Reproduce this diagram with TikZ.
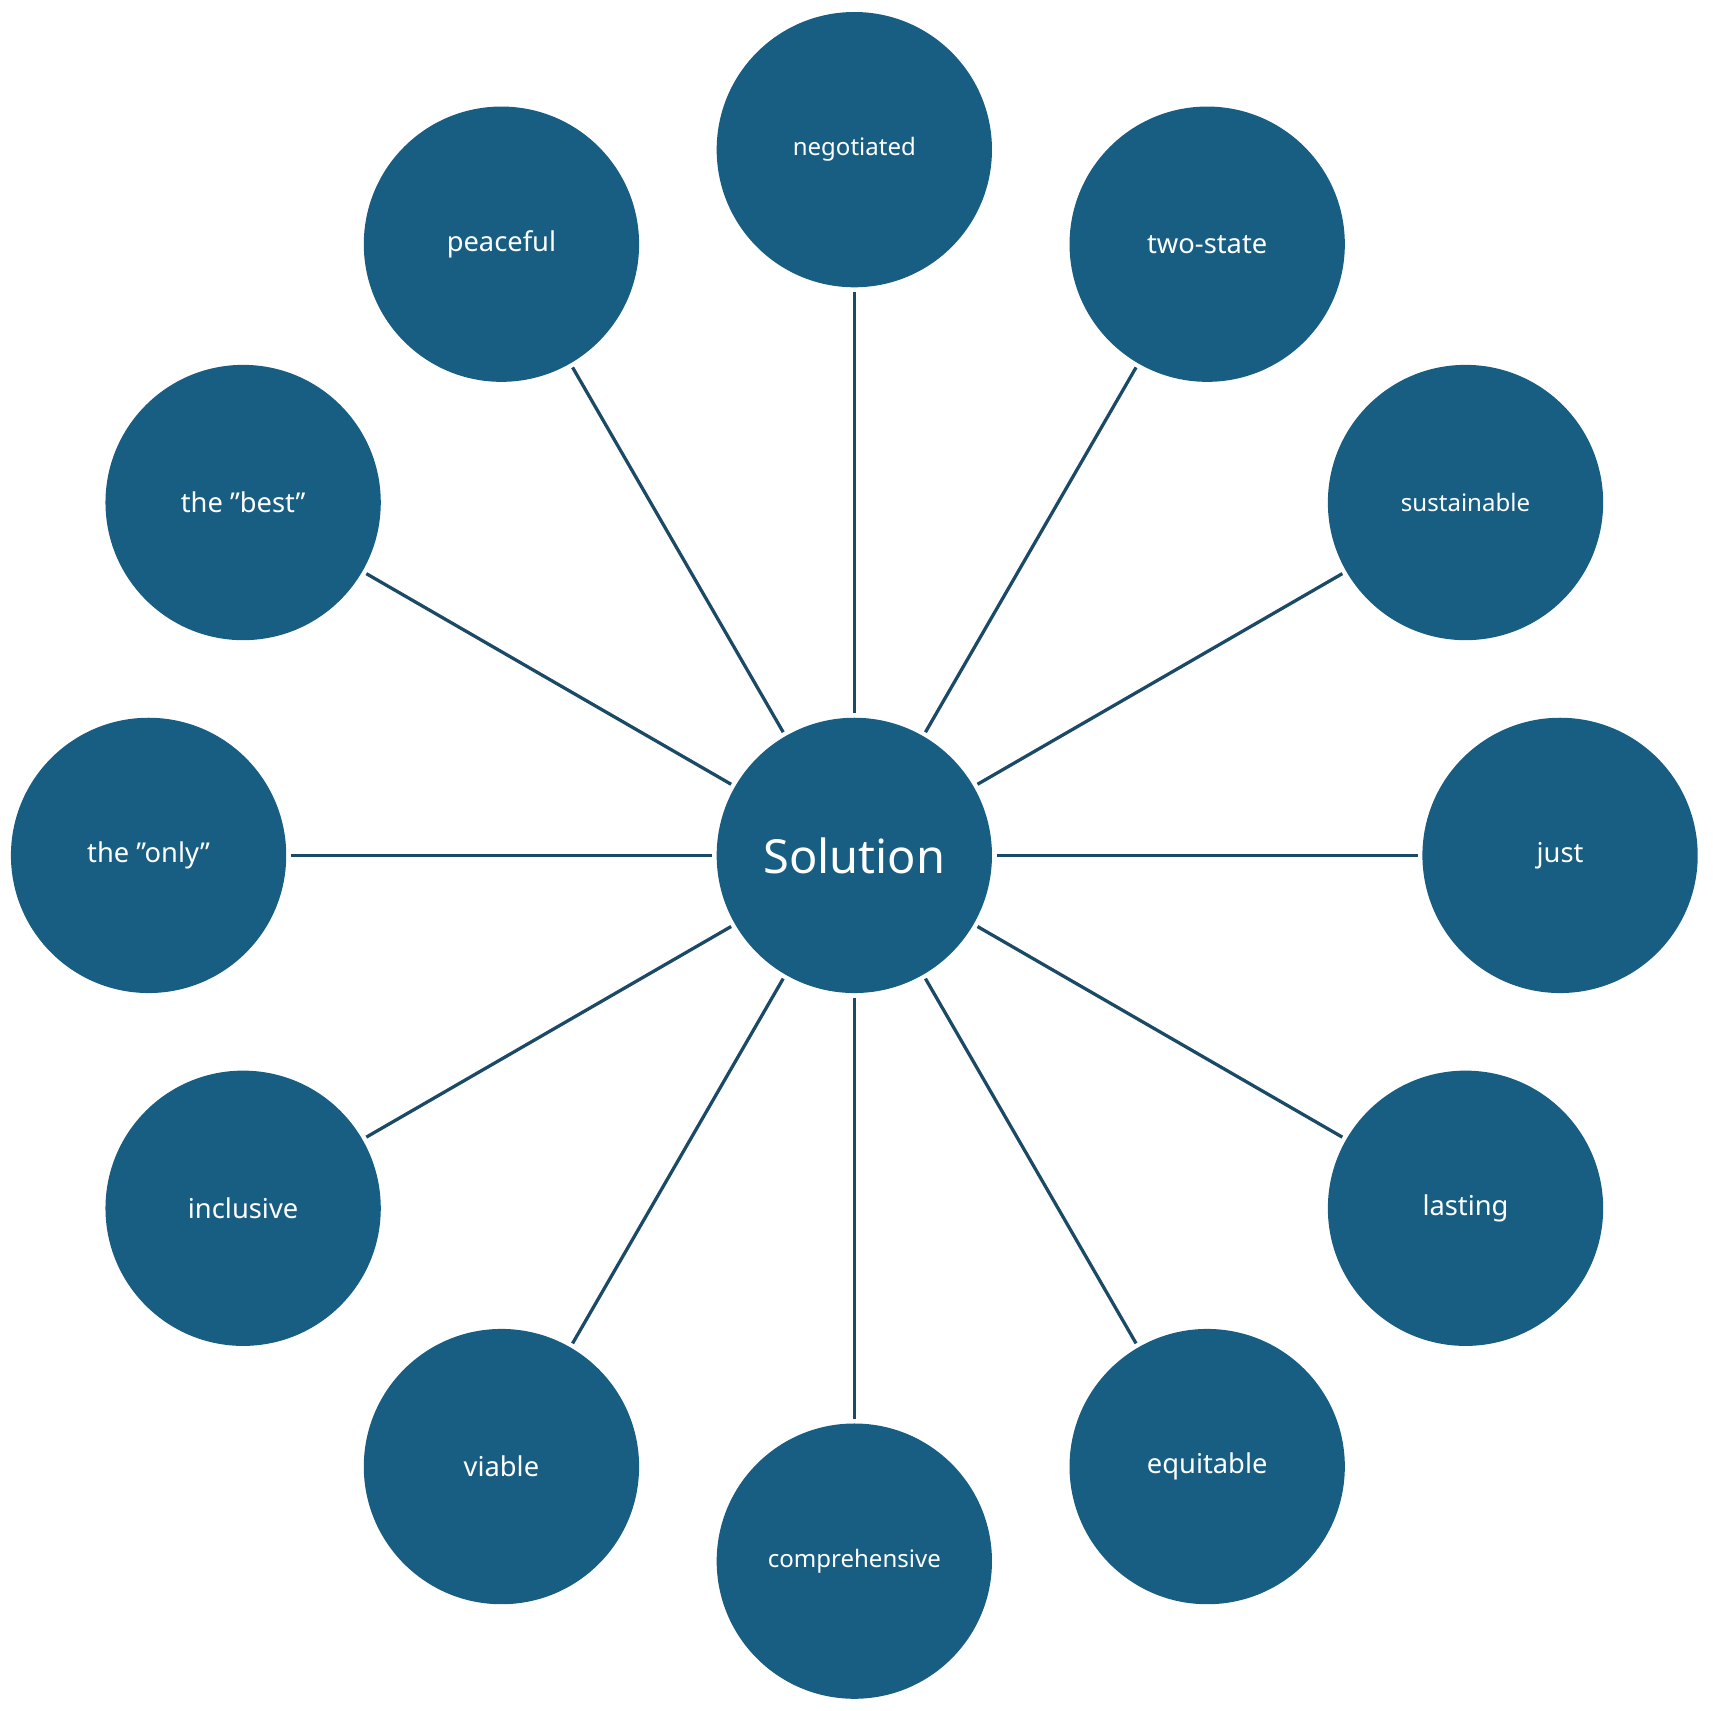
\documentclass[tikz,border=0pt]{standalone}
\usepackage{fontspec}
\setmainfont{Noto Sans}
\usetikzlibrary{calc}
\definecolor{cfill}{HTML}{175E82}
\definecolor{cline}{HTML}{1B4A66}
\newcommand{\sq}{{\char34}}
\begin{document}
\begin{tikzpicture}[x=1pt,y=1pt,
  bub/.style={circle,fill=cfill,minimum size=252pt,inner sep=0pt,text=white,font=\fontsize{25}{29}\selectfont},
  sm/.style={font=\fontsize{22}{26}\selectfont},
  nm/.style={},
  conn/.style={draw=cline,line width=3pt,shorten <=4pt,shorten >=4pt}]
\useasboundingbox (0,0) rectangle (1568,1566);
\coordinate (o) at (782,783);
\node[bub,font=\fontsize{43}{49}\selectfont] (c) at (o) {Solution};
\foreach \n/\a/\t/\s in {n1/90/negotiated/sm, n2/60/two-state/nm, n3/30/sustainable/sm, n4/0/just/nm, n5/-30/lasting/nm, n6/-60/equitable/nm, n7/-90/comprehensive/sm, n8/-120/viable/nm, n9/-150/inclusive/nm, n10/180/the \sq only\sq/nm, n11/150/the \sq best\sq/nm, n12/120/peaceful/nm}{
  \node[bub,\s] (\n) at ($(o)+(\a:646)$) {\t};
  \draw[conn] (c) -- (\n);
}
\end{tikzpicture}
\end{document}
